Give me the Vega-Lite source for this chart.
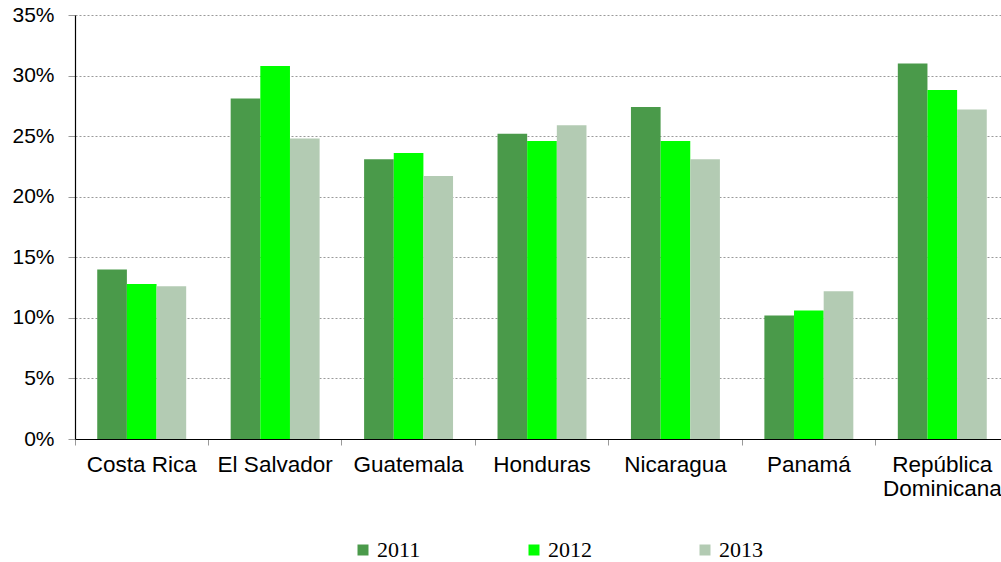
{
  "$schema": "https://vega.github.io/schema/vega-lite/v6.json",
  "width": 926,
  "height": 424,
  "autosize": "none",
  "padding": {"left": 75, "top": 15, "right": 0, "bottom": 123},
  "background": "white",
  "config": {"view": {"stroke": null}},
  "data": {
    "values": [
      {"country": "Costa Rica", "year": "2011", "value": 0.140},
      {"country": "Costa Rica", "year": "2012", "value": 0.128},
      {"country": "Costa Rica", "year": "2013", "value": 0.126},
      {"country": "El Salvador", "year": "2011", "value": 0.281},
      {"country": "El Salvador", "year": "2012", "value": 0.308},
      {"country": "El Salvador", "year": "2013", "value": 0.248},
      {"country": "Guatemala", "year": "2011", "value": 0.231},
      {"country": "Guatemala", "year": "2012", "value": 0.236},
      {"country": "Guatemala", "year": "2013", "value": 0.217},
      {"country": "Honduras", "year": "2011", "value": 0.252},
      {"country": "Honduras", "year": "2012", "value": 0.246},
      {"country": "Honduras", "year": "2013", "value": 0.259},
      {"country": "Nicaragua", "year": "2011", "value": 0.274},
      {"country": "Nicaragua", "year": "2012", "value": 0.246},
      {"country": "Nicaragua", "year": "2013", "value": 0.231},
      {"country": "Panamá", "year": "2011", "value": 0.102},
      {"country": "Panamá", "year": "2012", "value": 0.106},
      {"country": "Panamá", "year": "2013", "value": 0.122},
      {"country": "República Dominicana", "year": "2011", "value": 0.310},
      {"country": "República Dominicana", "year": "2012", "value": 0.288},
      {"country": "República Dominicana", "year": "2013", "value": 0.272}
    ]
  },
  "mark": {"type": "bar"},
  "encoding": {
    "x": {
      "field": "country",
      "type": "nominal",
      "sort": null,
      "scale": {"paddingInner": 0, "paddingOuter": 0, "range": [0, 934]},
      "axis": {
        "title": null,
        "bandPosition": 0,
        "labelAngle": 0,
        "labelAlign": "center",
        "labelBaseline": "top",
        "labelFont": "Liberation Sans",
        "labelFontSize": 22.5,
        "labelColor": "#000000",
        "labelPadding": 8,
        "labelLineHeight": 24,
        "labelOverlap": false,
        "labelBound": false,
        "labelLimit": 0,
        "labelExpr": "datum.value == 'República Dominicana' ? ['República', 'Dominicana'] : datum.value",
        "tickSize": 6,
        "tickColor": "#999999",
        "domainColor": "#000000",
        "domainWidth": 1.2,
        "grid": false
      }
    },
    "xOffset": {
      "field": "year",
      "type": "nominal",
      "scale": {"paddingInner": 0, "paddingOuter": 0.75}
    },
    "y": {
      "field": "value",
      "type": "quantitative",
      "scale": {"domain": [0, 0.35], "nice": false},
      "axis": {
        "title": null,
        "values": [0, 0.05, 0.1, 0.15, 0.2, 0.25, 0.3, 0.35],
        "format": ".0%",
        "labelFont": "Liberation Sans",
        "labelFontSize": 21,
        "labelColor": "#000000",
        "labelPadding": 14,
        "tickSize": 7,
        "tickColor": "#999999",
        "domainColor": "#000000",
        "domainWidth": 1.2,
        "grid": true,
        "gridColor": "#9a9a9a",
        "gridDash": [2, 2],
        "gridWidth": 1
      }
    },
    "color": {
      "field": "year",
      "type": "nominal",
      "scale": {"domain": ["2011", "2012", "2013"], "range": ["#4a9a4a", "#00ff00", "#b3cbb3"]},
      "legend": {
        "title": null,
        "orient": "none",
        "legendX": 277,
        "legendY": 524,
        "direction": "horizontal",
        "columns": 3,
        "columnPadding": 102,
        "symbolType": "square",
        "symbolSize": 121,
        "symbolStrokeWidth": 0,
        "labelFont": "Liberation Serif",
        "labelFontSize": 22,
        "labelColor": "#000000",
        "labelOffset": 3
      }
    }
  }
}
